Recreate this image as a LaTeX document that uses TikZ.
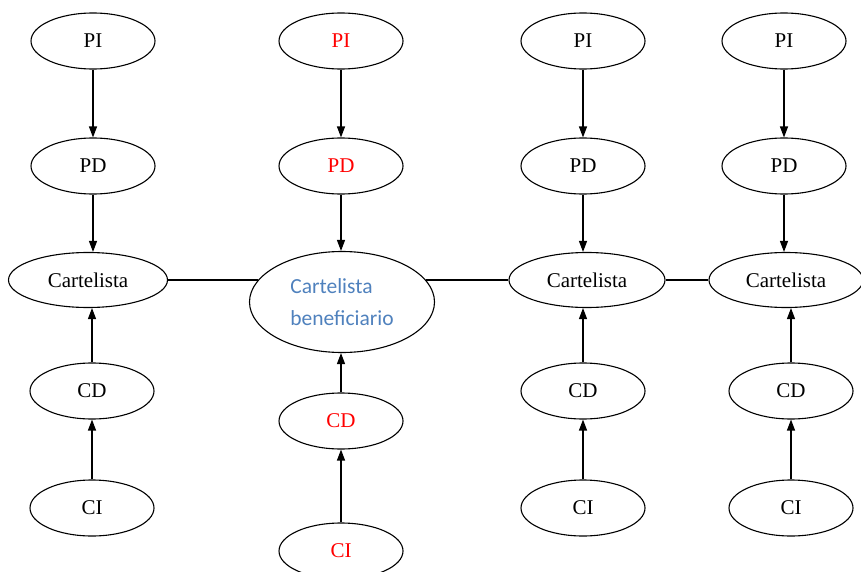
\documentclass[tikz,border=0pt]{standalone}
\usepackage{fontspec}
\setmainfont{Liberation Serif}
\newfontfamily\carlito{Carlito}
\usetikzlibrary{shapes.geometric,arrows.meta}
\definecolor{benblue}{RGB}{79,129,189}
\begin{document}
\begin{tikzpicture}[x=1pt,y=-1pt,
  ell/.style={draw,line width=1.1pt,ellipse,inner sep=0pt,minimum width=124pt,minimum height=56pt,font=\fontsize{21}{24}\selectfont},
  cart/.style={ell,minimum height=55pt},
  redt/.style={text=red},
  arr/.style={line width=1.2pt,-{Triangle[length=11pt,width=8pt]}},
  lnk/.style={line width=1.2pt}]
\useasboundingbox (0,0) rectangle (861,572);
% column 1
\node[ell] (pi1) at (93,41) {PI};
\node[ell] (pd1) at (93,166) {PD};
\node[cart,minimum width=159pt] (c1) at (88,280) {Cartelista};
\node[ell] (cd1) at (92,391) {CD};
\node[ell] (ci1) at (92,508) {CI};
% column 2
\node[ell,redt] (pi2) at (341,41) {PI};
\node[ell,redt] (pd2) at (341,166) {PD};
\node[draw,line width=1.1pt,ellipse,inner sep=0pt,minimum width=185pt,minimum height=101pt,
  text=benblue,align=left,font=\carlito\fontsize{21.5}{32}\selectfont] (b) at (342,302) {Cartelista\\beneficiario};
\node[ell,redt] (cd2) at (341,421) {CD};
\node[ell,redt] (ci2) at (341,551) {CI};
% column 3
\node[ell] (pi3) at (583,41) {PI};
\node[ell] (pd3) at (583,166) {PD};
\node[cart,minimum width=156pt] (c3) at (587,280) {Cartelista};
\node[ell] (cd3) at (583,391) {CD};
\node[ell] (ci3) at (583,508) {CI};
% column 4
\node[ell] (pi4) at (784,41) {PI};
\node[ell] (pd4) at (784,166) {PD};
\node[cart,minimum width=154pt] (c4) at (786,280) {Cartelista};
\node[ell] (cd4) at (791,391) {CD};
\node[ell] (ci4) at (791,508) {CI};
% arrows
\foreach \i in {1,3,4} {
  \draw[arr] (pi\i) -- (pd\i);
  \draw[arr] (pd\i.south) -- (pd\i.south |- c\i.north);
  \draw[arr] (cd\i.north) -- (cd\i.north |- c\i.south);
  \draw[arr] (ci\i) -- (cd\i);
}
\draw[arr] (pi2) -- (pd2);
\draw[arr] (pd2.south) -- (pd2.south |- b.north);
\draw[arr] (cd2.north) -- (cd2.north |- b.south);
\draw[arr] (ci2) -- (cd2);
% links
\draw[lnk] (c1.east) -- (b.165 |- c1.east);
\draw[lnk] (b.15 |- c3.west) -- (c3.west);
\draw[lnk] (c3.east) -- (c4.west);
\end{tikzpicture}
\end{document}
